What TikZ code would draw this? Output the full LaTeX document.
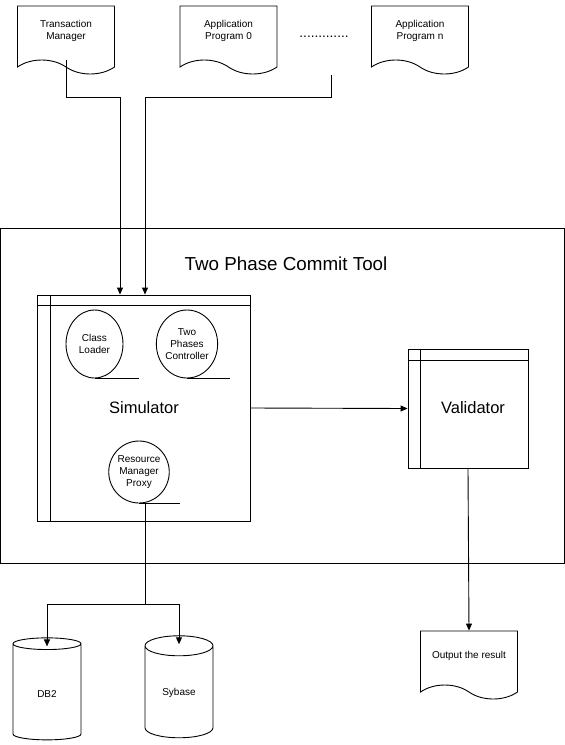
\documentclass[tikz,border=0pt]{standalone}
\usepackage{fontspec}
\setmainfont{Liberation Sans}
\usetikzlibrary{shapes.geometric,shapes.symbols,arrows.meta}
\tikzset{
  small/.style={font=\fontsize{10}{12}\selectfont, align=center},
  docshape/.style={small, draw, shape=tape, tape bend top=none, tape bend bottom=out and in, tape bend height=14pt, minimum width=97pt, minimum height=68pt, inner sep=0pt},
  procball/.style={small, draw, ellipse, minimum width=57pt, minimum height=68pt, inner sep=0pt},
  dbshape/.style={small, draw, cylinder, shape border rotate=90, aspect=0.6, minimum width=68pt, minimum height=102pt, inner sep=0pt},
  framebox/.style={draw, rectangle, inner sep=0pt, font=\fontsize{16.5}{19}\selectfont},
  flow/.style={-{Triangle[length=7pt,width=6pt]}},
}

\begin{document}
\begin{tikzpicture}[x=1pt, y=-1pt, line width=0.9pt]

    \useasboundingbox (0,0) rectangle (565,745);

    % Sources
    \node[docshape] (tm) at (66,33) {Transaction\\Manager\\[-5pt]};
    \node[docshape] (app0) at (228.5,33) {Application\\Program 0\\[-5pt]};
    \node[docshape] (appn) at (420,33) {Application\\Program n\\[-5pt]};
    \node[font=\fontsize{13.6}{14}\selectfont] (dots) at (324,37) {.............};
    \coordinate (appsout) at (331,75);

    % Tool frame
    \node[draw, rectangle, minimum width=564pt, minimum height=335pt] (tool) at (282.5,395.5) {};
    \node[anchor=base, font=\fontsize{18.8}{22}\selectfont] (title) at (286,270) {Two Phase Commit Tool};

    % Simulator
    \node[framebox, minimum width=213pt, minimum height=226pt] (sim) at (144,408) {Simulator};
    \draw ([yshift=-11pt]sim.north west) -- ([yshift=-11pt]sim.north east);
    \draw ([xshift=13pt]sim.north west) -- ([xshift=13pt]sim.south west);
    \node[procball] (cl) at (94.5,344) {Class\\Loader};
    \node[procball, minimum width=61pt] (tpc) at (187,344) {Two\\Phases\\Controller};
    \node[procball, minimum width=55pt, minimum height=62pt] (rmp) at (139,472) {Resource\\Manager\\Proxy};
    \draw (cl.south) -- ++(44,0);
    \draw (tpc.south) -- ++(43,0);
    \draw (rmp.south) -- ++(41,0);

    % Validator
    \node[framebox, minimum width=120pt, minimum height=119pt] (val) at (468,408.5) {};
    \draw ([yshift=-12pt]val.north west) -- ([yshift=-12pt]val.north east);
    \draw ([xshift=13pt]val.north west) -- ([xshift=13pt]val.south west);
    \node[font=\fontsize{16.5}{19}\selectfont] (valtext) at (473,408) {Validator};

    % Sinks
    \node[dbshape] (db2) at (47,692) {\mbox{}\\[-2pt]DB2};
    \node[dbshape] (syb) at (179,692) {\mbox{}\\[-2pt]Sybase};
    \node[docshape] (out) at (469,658) {Output the result\\[-5pt]};

    % Connectors
    \coordinate (tmbend) at (120,97);
    \coordinate (appbend) at (145,97);
    \coordinate (dbsplit) at (145,604);
    \draw[flow] (tm.south) |- (tmbend) -- (tmbend |- sim.north);
    \draw[flow] (appsout) |- (appbend) -- (appbend |- sim.north);
    \draw[flow] (sim.east) -- (val.west);
    \draw (rmp.south -| dbsplit) -- (dbsplit);
    \draw[flow] (dbsplit) -| ([yshift=-9pt]db2.north);
    \draw[flow] (dbsplit) -| ([yshift=-9pt]syb.north);
    \draw[flow] (val.south) -- (out.north);

\end{tikzpicture}
\end{document}
